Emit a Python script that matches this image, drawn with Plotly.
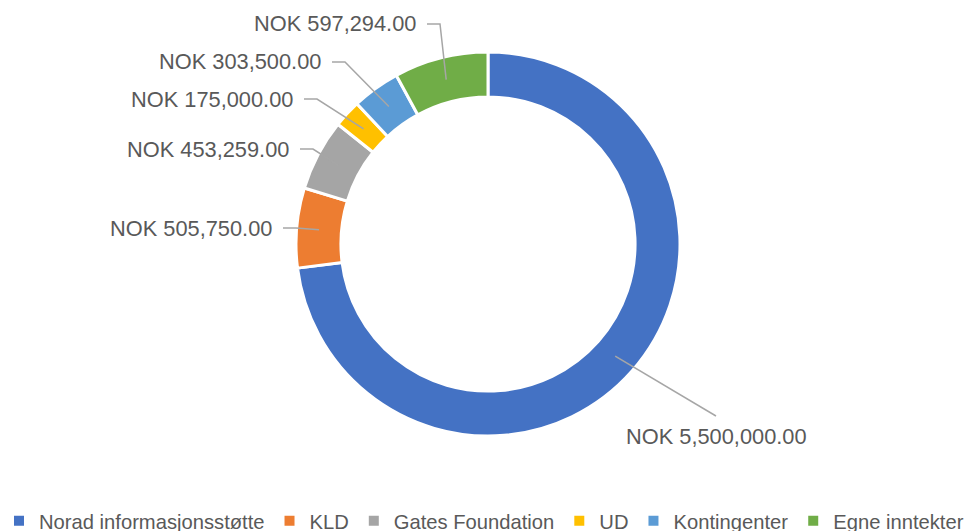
import math
import plotly.graph_objects as go

# ---- data ----
categories = ["Norad informasjonsstøtte", "KLD", "Gates Foundation", "UD", "Kontingenter", "Egne inntekter"]
values = [5500000, 505750, 453259, 175000, 303500, 597294]
colors = ["#4472C4", "#ED7D31", "#A5A5A5", "#FFC000", "#5B9BD5", "#70AD47"]

# ---- layout parameters (screen pixels) ----
W, H = 976, 531
PAGE_OFFSET = 8            # default body margin of the html page
CX, CY = 488, 244          # pie centre
R_OUT = 192
HOLE = 0.766
R_MID = R_OUT * (1 + HOLE) / 2
# label elbow offsets relative to pie centre (layout, per slice)
LABEL_ELBOW = [(228, 172), (-192, -16), (-175, -95), (-171, -145), (-143, -182), (-48, -220)]
TAIL = 13
GAP = 9
TEXT_COLOR = "#595959"
LINE_COLOR = "#A6A6A6"
FONT = "Liberation Sans"
LEGEND_CENTER_X = 484


def px(x):
    return (x - PAGE_OFFSET) / W


def py(y):
    return 1 - (y - PAGE_OFFSET) / H


def fmt(v):
    return "NOK {:,.2f}".format(v)


fig = go.Figure(go.Pie(
    labels=categories,
    values=values,
    marker=dict(colors=colors, line=dict(color="white", width=3)),
    hole=HOLE,
    sort=False,
    direction="clockwise",
    rotation=0,
    textinfo="none",
    hoverinfo="label+value",
    domain=dict(x=[px(CX - R_OUT), px(CX + R_OUT)], y=[py(CY + R_OUT), py(CY - R_OUT)]),
))

total = sum(values)
cum = 0.0
shapes = []
annotations = []
for i, v in enumerate(values):
    mid = (cum + v / 2) / total * 2 * math.pi
    cum += v
    sx = CX + R_MID * math.sin(mid)
    sy = CY - R_MID * math.cos(mid)
    ex = CX + LABEL_ELBOW[i][0]
    ey = CY + LABEL_ELBOW[i][1]
    if ex > CX:
        path = f"M {px(sx)},{py(sy)} L {px(ex)},{py(ey)}"
        annotations.append(dict(x=px(ex), y=py(ey + 20), xref="paper", yref="paper",
                                text=fmt(v), showarrow=False, xanchor="center", yanchor="middle",
                                font=dict(size=21.8, color=TEXT_COLOR, family=FONT)))
    else:
        tx = ex - TAIL
        path = f"M {px(sx)},{py(sy)} L {px(ex)},{py(ey)} L {px(tx)},{py(ey)}"
        annotations.append(dict(x=px(tx - GAP), y=py(ey), xref="paper", yref="paper",
                                text=fmt(v), showarrow=False, xanchor="right", yanchor="middle",
                                font=dict(size=21.8, color=TEXT_COLOR, family=FONT)))
    shapes.append(dict(type="path", path=path, xref="paper", yref="paper",
                       line=dict(color=LINE_COLOR, width=1.5)))

fig.update_layout(
    width=W, height=H,
    margin=dict(l=0, r=0, t=0, b=0, autoexpand=False),
    paper_bgcolor="white",
    plot_bgcolor="white",
    shapes=shapes,
    annotations=annotations,
    showlegend=True,
    legend=dict(orientation="h", x=px(LEGEND_CENTER_X), xanchor="center", y=py(521), yanchor="middle",
                font=dict(size=20.2, color=TEXT_COLOR, family=FONT),
                itemsizing="constant", bgcolor="rgba(0,0,0,0)"),
    font=dict(family=FONT),
)

fig.write_html("out.html")
